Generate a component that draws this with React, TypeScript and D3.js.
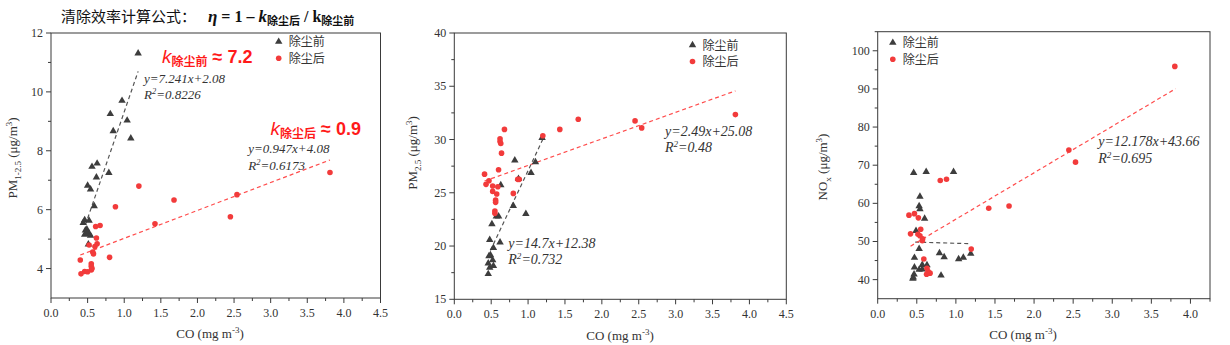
import React from 'react';
import * as d3 from 'd3';

// ---------- DATA ----------
const seriesNames = ['除尘前', '除尘后'];

// Panel 1: PM1-2.5 vs CO
const pm125Before: [number, number][] = [
  [1.19, 11.31], [0.97, 9.70], [0.81, 9.25], [1.04, 9.03], [0.85, 8.67], [1.09, 8.42],
  [0.56, 7.46], [0.63, 7.57], [0.79, 7.25], [0.62, 7.10], [0.50, 6.82], [0.54, 6.69],
  [0.59, 6.12], [0.46, 5.65], [0.52, 5.63], [0.44, 5.55], [0.47, 5.30], [0.49, 5.33],
  [0.50, 5.22], [0.52, 5.18], [0.46, 5.15], [0.54, 5.12], [0.48, 5.20], [0.51, 4.82],
];
const pm125After: [number, number][] = [
  [0.41, 3.82], [0.46, 3.90], [0.50, 3.89], [0.55, 3.95], [0.56, 4.00], [0.55, 4.08],
  [0.55, 4.16], [0.40, 4.29], [0.80, 4.38], [0.58, 4.50], [0.57, 4.56], [0.52, 4.80],
  [0.60, 4.75], [0.63, 4.84], [0.62, 5.04], [0.61, 5.43], [0.67, 5.46], [0.88, 6.10],
  [1.20, 6.80], [1.42, 5.52], [1.68, 6.33], [2.45, 5.76], [2.54, 6.51], [3.81, 7.26],
];

// Panel 2: PM2.5 vs CO
const pm25Before: [number, number][] = [
  [1.19, 30.16], [0.82, 28.04], [1.10, 27.88], [1.04, 26.88], [0.87, 26.31], [0.63, 25.72],
  [0.80, 23.78], [0.97, 23.03], [0.57, 22.79], [0.60, 22.79], [0.51, 22.06], [0.48, 20.59],
  [0.62, 20.35], [0.53, 19.84], [0.47, 19.06], [0.52, 18.69], [0.46, 18.38], [0.53, 18.15],
  [0.48, 17.97], [0.46, 17.38], [0.49, 19.16],
];
const pm25After: [number, number][] = [
  [3.81, 32.34], [2.45, 31.75], [2.54, 31.09], [1.68, 31.90], [1.43, 30.95], [1.20, 30.36],
  [0.68, 30.95], [0.62, 30.07], [0.62, 29.82], [0.63, 29.63], [0.64, 28.72], [0.60, 27.16],
  [0.41, 26.75], [0.43, 25.79], [0.47, 26.13], [0.52, 25.63], [0.59, 25.56], [0.52, 25.13],
  [0.575, 24.88], [0.56, 24.31], [0.56, 24.10], [0.55, 23.28], [0.55, 23.07], [0.88, 26.26],
  [0.86, 26.26], [0.80, 24.94],
];

// Panel 3: NOx vs CO
const noxBefore: [number, number][] = [
  [0.46, 68.0], [0.62, 68.25], [0.97, 68.25], [0.54, 61.8], [0.53, 59.3], [0.54, 58.5],
  [0.60, 56.0], [0.49, 52.8], [0.53, 48.1], [0.47, 45.75], [0.79, 46.97], [0.85, 45.9],
  [1.035, 45.4], [1.095, 45.8], [1.19, 46.8], [0.47, 43.2], [0.57, 43.9], [0.63, 43.8],
  [0.53, 42.6], [0.57, 42.7], [0.455, 40.6], [0.465, 41.4], [0.81, 41.1], [0.45, 40.3],
];
const noxAfter: [number, number][] = [
  [3.80, 95.9], [2.445, 74.0], [2.53, 70.8], [1.68, 59.3], [1.42, 58.7], [0.88, 66.3],
  [0.80, 66.0], [1.196, 48.0], [0.40, 56.9], [0.47, 57.3], [0.52, 56.2], [0.42, 52.0],
  [0.55, 53.2], [0.515, 51.9], [0.54, 51.5], [0.575, 50.7], [0.57, 50.2], [0.59, 45.4],
  [0.63, 42.96], [0.645, 42.1], [0.67, 41.7], [0.625, 41.4],
];

// Linear fits: [slope, intercept, xStart, xEnd]
const fitPm125Before = [7.241, 2.08, 0.47, 1.19];
const fitPm125After = [0.947, 4.08, 0.40, 3.81];
const fitPm25Before = [14.7, 12.38, 0.49, 1.20];
const fitPm25After = [2.49, 25.08, 0.41, 3.81];
const fitNoxBefore = [-0.6, 50.13, 0.48, 1.19];
const fitNoxAfter = [12.178, 43.66, 0.42, 3.81];

// Equation labels
const eqPm125 = [['y=7.241x+2.08', '0.8226'], ['y=0.947x+4.08', '0.6173']];
const eqPm25 = [['y=2.49x+25.08', '0.48'], ['y=14.7x+12.38', '0.732']];
const eqNox = [['y=12.178x+43.66', '0.695']];

// Ticks
const xTicksA = [0, 0.5, 1, 1.5, 2, 2.5, 3, 3.5, 4, 4.5];
const xTicksB = [0, 0.5, 1, 1.5, 2, 2.5, 3, 3.5, 4];
const yTicksPm125 = [4, 6, 8, 10, 12];
const yTicksPm25 = [15, 20, 25, 30, 35, 40];
const yTicksNox = [40, 50, 60, 70, 80, 90, 100];

// ---------- STYLE ----------
const SERIF = '"Liberation Serif", "Times New Roman", serif';
const SANS = '"Liberation Sans", Arial, sans-serif';
const CJK = '"Noto Sans CJK SC", sans-serif';
const AXIS = '#3a3a3a';
const DARK = '#3d3d3d';
const RED = '#f23b3b';
const RED_LINE = '#ff4d4d';
const ANN_RED = '#ff1a1a';

const triPath = d3.symbol().type(d3.symbolTriangle).size(24)() as string;

type PanelCfg = {
  left: number; right: number; top: number; bottom: number;
  xDomain: [number, number]; yDomain: [number, number];
  xTicks: number[]; yTicks: number[]; xMinorStep: number; yMinorStep: number;
  before: [number, number][]; after: [number, number][];
  fitBefore: number[]; fitAfter: number[];
  yLabel: React.ReactNode; yLabelPos: [number, number];
  xLabelPos: [number, number];
  legendPos: [number, number];
};

function Panel({ c }: { c: PanelCfg }) {
  const x = d3.scaleLinear().domain(c.xDomain).range([c.left, c.right]);
  const y = d3.scaleLinear().domain(c.yDomain).range([c.bottom, c.top]);
  const xMinor = d3.range(c.xDomain[0], c.xDomain[1] + 1e-9, c.xMinorStep)
    .filter(v => !c.xTicks.some(t => Math.abs(t - v) < 1e-6));
  const yMinor = d3.range(c.yDomain[0], c.yDomain[1] + 1e-9, c.yMinorStep)
    .filter(v => !c.yTicks.some(t => Math.abs(t - v) < 1e-6) && v > c.yDomain[0] + 1e-6);
  const line = d3.line<number>().x(v => x(v)).y(v => y(v));
  const fitLine = (f: number[]) =>
    d3.line<number>().x(v => x(v)).y(v => y(f[0] * v + f[1]))([f[2], f[3]]) as string;
  void line;
  return (
    <g>
      {/* frame */}
      <rect x={c.left} y={c.top} width={c.right - c.left} height={c.bottom - c.top}
        fill="none" stroke={AXIS} strokeWidth={1} />
      {/* x ticks */}
      {c.xTicks.map(t => (
        <g key={'xt' + t}>
          <line x1={x(t)} x2={x(t)} y1={c.bottom} y2={c.bottom + 5} stroke={AXIS} />
          <text x={x(t)} y={c.bottom + 19} textAnchor="middle" fontFamily={SERIF}
            fontSize={12} fill="#333">{t.toFixed(1)}</text>
        </g>
      ))}
      {xMinor.map(t => (
        <line key={'xm' + t} x1={x(t)} x2={x(t)} y1={c.bottom} y2={c.bottom + 3} stroke={AXIS} />
      ))}
      {/* y ticks */}
      {c.yTicks.map(t => (
        <g key={'yt' + t}>
          <line x1={c.left - 5} x2={c.left} y1={y(t)} y2={y(t)} stroke={AXIS} />
          <text x={c.left - 8} y={y(t) + 4} textAnchor="end" fontFamily={SERIF}
            fontSize={12} fill="#333">{t}</text>
        </g>
      ))}
      {yMinor.map(t => (
        <line key={'ym' + t} x1={c.left - 3} x2={c.left} y1={y(t)} y2={y(t)} stroke={AXIS} />
      ))}
      {/* axis labels */}
      <text x={c.xLabelPos[0]} y={c.xLabelPos[1]} textAnchor="middle" fontFamily={SERIF}
        fontSize={13} fill="#333">
        CO (mg m<tspan dy={-5} fontSize={9}>-3</tspan><tspan dy={5}>)</tspan>
      </text>
      <text transform={`translate(${c.yLabelPos[0]},${c.yLabelPos[1]}) rotate(-90)`}
        textAnchor="middle" fontFamily={SERIF} fontSize={13} fill="#333">
        {c.yLabel}
      </text>
      {/* fit lines */}
      <path d={fitLine(c.fitBefore)} stroke="#555" strokeWidth={1.2} strokeDasharray="4,3" fill="none" />
      <path d={fitLine(c.fitAfter)} stroke={RED_LINE} strokeWidth={1.2} strokeDasharray="4,3" fill="none" />
      {/* points */}
      {c.before.map((p, i) => (
        <path key={'b' + i} d={triPath} transform={`translate(${x(p[0])},${y(p[1])})`} fill={DARK} />
      ))}
      {c.after.map((p, i) => (
        <circle key={'a' + i} cx={x(p[0])} cy={y(p[1])} r={2.8} fill={RED} />
      ))}
      {/* legend */}
      <path d={triPath} transform={`translate(${c.legendPos[0]},${c.legendPos[1]})`} fill={DARK} />
      <text x={c.legendPos[0] + 10} y={c.legendPos[1] + 4.5} fontFamily={CJK} fontSize={12} fill="#333">
        {seriesNames[0]}
      </text>
      <circle cx={c.legendPos[0]} cy={c.legendPos[1] + 16.5} r={2.8} fill={RED} />
      <text x={c.legendPos[0] + 10} y={c.legendPos[1] + 21} fontFamily={CJK} fontSize={12} fill="#333">
        {seriesNames[1]}
      </text>
    </g>
  );
}

function Eq({ x, y, eq, r2, size = 13 }: { x: number; y: number; eq: string; r2: string; size?: number }) {
  return (
    <g fontFamily={SERIF} fontStyle="italic" fontSize={size} fill="#333">
      <text x={x} y={y}>{eq}</text>
      <text x={x} y={y + 16.5}>R<tspan dy={-5} fontSize={size * 0.65}>2</tspan><tspan dy={5}>=</tspan>{r2}</text>
    </g>
  );
}

function KLabel({ x, y, sub, val }: { x: number; y: number; sub: string; val: string }) {
  return (
    <text x={x} y={y} fill={ANN_RED} fontWeight="bold">
      <tspan fontFamily={SANS} fontStyle="italic" fontSize={19} fontWeight="normal">k</tspan>
      <tspan fontFamily={CJK} fontSize={12} dy={3}>{sub}</tspan>
      <tspan fontFamily={SANS} fontSize={18} dy={-3}> ≈ {val}</tspan>
    </text>
  );
}

export default function App() {
  const p1: PanelCfg = {
    left: 51, right: 380.5, top: 33, bottom: 298,
    xDomain: [0, 4.5], yDomain: [3, 12], xTicks: xTicksA, yTicks: yTicksPm125,
    xMinorStep: 0.25, yMinorStep: 1,
    before: pm125Before, after: pm125After, fitBefore: fitPm125Before, fitAfter: fitPm125After,
    yLabel: <>PM<tspan dy={4} fontSize={9}>1-2.5</tspan><tspan dy={-4}> (μg/m</tspan><tspan dy={-5} fontSize={9}>3</tspan><tspan dy={5}>)</tspan></>,
    yLabelPos: [17, 158], xLabelPos: [210, 338], legendPos: [278.7, 41.7],
  };
  const p2: PanelCfg = {
    left: 454.3, right: 786.3, top: 33, bottom: 299.3,
    xDomain: [0, 4.5], yDomain: [15, 40], xTicks: xTicksA, yTicks: yTicksPm25,
    xMinorStep: 0.25, yMinorStep: 2.5,
    before: pm25Before, after: pm25After, fitBefore: fitPm25Before, fitAfter: fitPm25After,
    yLabel: <>PM<tspan dy={4} fontSize={9}>2.5</tspan><tspan dy={-4}> (μg/m</tspan><tspan dy={-5} fontSize={9}>3</tspan><tspan dy={5}>)</tspan></>,
    yLabelPos: [417, 153], xLabelPos: [620, 340], legendPos: [692.5, 45],
  };
  const p3: PanelCfg = {
    left: 877.7, right: 1210, top: 31.7, bottom: 298.7,
    xDomain: [0, 4.25], yDomain: [35, 105], xTicks: xTicksB, yTicks: yTicksNox,
    xMinorStep: 0.25, yMinorStep: 5,
    before: noxBefore, after: noxAfter, fitBefore: fitNoxBefore, fitAfter: fitNoxAfter,
    yLabel: <>NO<tspan dy={4} fontSize={9}>x</tspan><tspan dy={-4}> (μg/m</tspan><tspan dy={-5} fontSize={9}>3</tspan><tspan dy={5}>)</tspan></>,
    yLabelPos: [827, 167], xLabelPos: [1023, 339], legendPos: [892.8, 42.7],
  };
  return (
    <svg width={1230} height={345} style={{ position: 'absolute', left: 0, top: 0, background: '#fff' }}>
      <rect width={1230} height={345} fill="#fff" />
      {/* title */}
      <text x={61} y={21.5} fill="#111">
        <tspan fontFamily={CJK} fontSize={15}>清除效率计算公式：</tspan>
        <tspan fontFamily={SERIF} fontSize={17} fontWeight="bold" fontStyle="italic" dx={12}>η</tspan>
        <tspan fontFamily={SERIF} fontSize={16} fontWeight="bold"> = 1 – </tspan>
        <tspan fontFamily={SERIF} fontSize={17} fontWeight="bold" fontStyle="italic">k</tspan>
        <tspan fontFamily={CJK} fontSize={11} fontWeight="bold" dy={3}>除尘后</tspan>
        <tspan fontFamily={SERIF} fontSize={16} fontWeight="bold" dy={-3}> / k</tspan>
        <tspan fontFamily={CJK} fontSize={11} fontWeight="bold" dy={3}>除尘前</tspan>
      </text>
      <Panel c={p1} />
      <Panel c={p2} />
      <Panel c={p3} />
      <KLabel x={162} y={63} sub="除尘前" val="7.2" />
      <KLabel x={270.5} y={135} sub="除尘后" val="0.9" />
      <Eq x={144} y={82.7} eq={eqPm125[0][0]} r2={eqPm125[0][1]} />
      <Eq x={248.3} y={153.3} eq={eqPm125[1][0]} r2={eqPm125[1][1]} />
      <Eq x={665} y={135.7} eq={eqPm25[0][0]} r2={eqPm25[0][1]} size={14} />
      <Eq x={508.3} y={247.7} eq={eqPm25[1][0]} r2={eqPm25[1][1]} size={14} />
      <Eq x={1098.3} y={146} eq={eqNox[0][0]} r2={eqNox[0][1]} size={14} />
    </svg>
  );
}
